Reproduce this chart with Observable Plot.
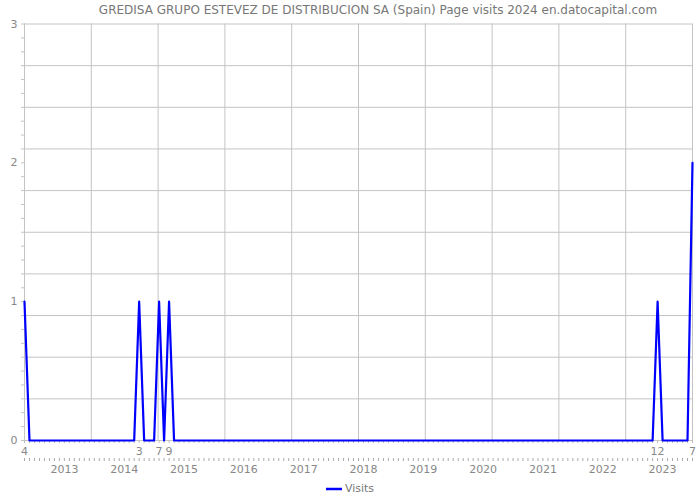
<!DOCTYPE html>
<html>
<head>
<meta charset="utf-8">
<script src="https://cdn.jsdelivr.net/npm/d3@7"></script>
<script src="https://cdn.jsdelivr.net/npm/@observablehq/plot@0.6"></script>
<style>
  html, body { margin: 0; padding: 0; background: #fff; }
  body { width: 700px; height: 500px; overflow: hidden; font-family: "DejaVu Sans", sans-serif; }
  #title { height: 20px; line-height: 20px; text-align: center; font-size: 12px; color: #777; white-space: nowrap; padding-left: 56px; }
  #legend { height: 20px; line-height: 18px; text-align: center; font-size: 11px; color: #777; }
  #legend svg { vertical-align: middle; margin-right: 3px; }
</style>
</head>
<body>
<div id="title">GREDISA GRUPO ESTEVEZ DE DISTRIBUCION SA (Spain) Page visits 2024 en.datocapital.com</div>
<div id="chart"></div>
<div id="legend"><svg width="16" height="4"><line x1="0" y1="2" x2="16" y2="2" stroke="#0000ff" stroke-width="2.5"></line></svg><span>Visits</span></div>
<script>
// Monthly page visits, one value per plotted point (index 0 = April 2012, last = July 2024)
const visits = [
  1,0,0,0,0,0,0,0,0,0,
  0,0,0,0,0,0,0,0,0,0,
  0,0,0,1,0,0,0,1,0,1,
  0,0,0,0,0,0,0,0,0,0,
  0,0,0,0,0,0,0,0,0,0,
  0,0,0,0,0,0,0,0,0,0,
  0,0,0,0,0,0,0,0,0,0,
  0,0,0,0,0,0,0,0,0,0,
  0,0,0,0,0,0,0,0,0,0,
  0,0,0,0,0,0,0,0,0,0,
  0,0,0,0,0,0,0,0,0,0,
  0,0,0,0,0,0,0,0,0,0,
  0,0,0,0,0,0,0,1,0,0,
  0,0,0,0,2
];
// Month tick labels (point index -> month number)
const monthTickIndex = [0, 23, 27, 29, 127, 134];
const monthTickLabel = ["4", "3", "7", "9", "12", "7"];
// Year tick labels
const yearTickIndex = [8, 20, 32, 44, 56, 68, 80, 92, 104, 116, 128];
const yearTickLabel = ["2013","2014","2015","2016","2017","2018","2019","2020","2021","2022","2023"];
// Y axis labels
const yTickValues = [0, 1, 2, 3];

const data = visits.map((v, i) => ({i, v}));
const lastIndex = visits.length - 1;
const xGrid = d3.range(0, 11).map(k => k * lastIndex / 10);
const yGrid = d3.range(0, 11).map(k => k * 0.3);
const yMinor = d3.range(0, 31).map(k => k / 10);
const xMinor = d3.range(0, visits.length);

const grey = "#888";
const gridC = "#c4c4c4";
const H = 460, MT = 3.5, MB = 40;
const frameH = H - MT - MB;

const chart = Plot.plot({
  width: 700,
  height: H,
  marginTop: MT,
  marginBottom: MB,
  marginLeft: 24,
  marginRight: 8,
  style: {fontFamily: "DejaVu Sans, sans-serif", fontSize: "11px", color: grey, background: "white", overflow: "visible"},
  x: {domain: [0, lastIndex]},
  y: {domain: [0, 3]},
  marks: [
    Plot.gridY(yGrid, {stroke: gridC, strokeOpacity: 1}),
    Plot.gridX(xGrid, {stroke: gridC, strokeOpacity: 1}),
    Plot.axisY(yMinor, {tickSize: 3, text: null, stroke: gridC, strokeOpacity: 1, label: null}),
    Plot.axisY(yTickValues, {tickSize: 0, tickPadding: 7, tickFormat: d3.format("d"), fill: grey, fontSize: 11, label: null}),
    Plot.axisX(xMinor, {tickSize: 3, text: null, stroke: "#bbb", strokeOpacity: 1, label: null}),
    Plot.ruleX(xMinor, {x: (d) => d, insetTop: frameH - 3, dy: 21, stroke: "#aaa", strokeWidth: 1}),
    Plot.axisX(monthTickIndex, {tickSize: 0, tickPadding: 6.5, tickFormat: (d) => monthTickLabel[monthTickIndex.indexOf(d)], fill: grey, fontSize: 11, label: null}),
    Plot.axisX(yearTickIndex, {tickSize: 0, tickPadding: 25, tickFormat: (d) => yearTickLabel[yearTickIndex.indexOf(d)], fill: grey, fontSize: 11, label: null}),
    Plot.ruleY([0], {stroke: gridC}),
    Plot.ruleX([0], {stroke: gridC}),
    Plot.line(data, {x: "i", y: "v", stroke: "#0000ff", strokeWidth: 2.2})
  ]
});
document.getElementById("chart").appendChild(chart);
</script>
</body>
</html>
